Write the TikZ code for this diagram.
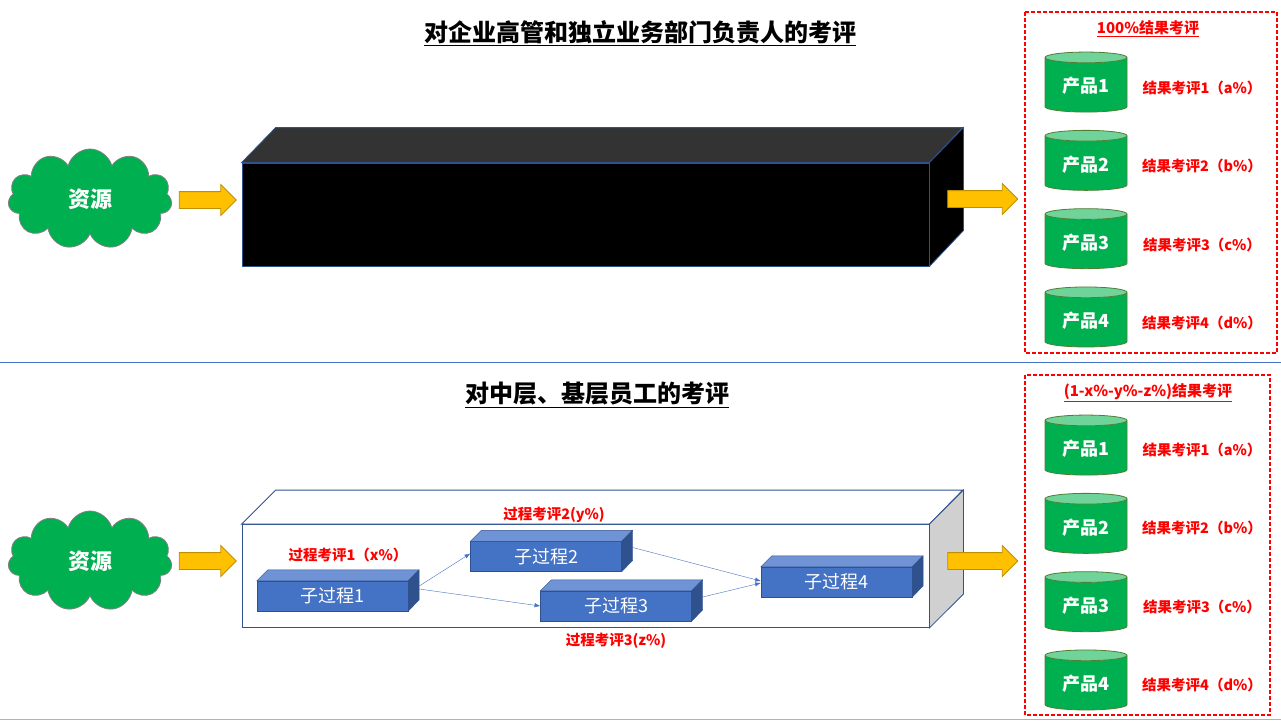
\documentclass[tikz,border=0pt]{standalone}
\usepackage{fontspec}
\setmainfont{Noto Sans CJK SC}
\usetikzlibrary{shapes.geometric,shapes.symbols,shapes.arrows,arrows.meta,positioning}
\definecolor{resgreen}{HTML}{00B050}
\definecolor{cyltop}{HTML}{6FD39A}
\definecolor{cyledge}{HTML}{507E32}
\definecolor{boxblue}{HTML}{4472C4}
\definecolor{boxtop}{HTML}{6F93D5}
\definecolor{boxedge}{HTML}{2F528F}
\definecolor{flowyellow}{HTML}{FFC000}
\definecolor{flowedge}{HTML}{BF9000}
\definecolor{sidegray}{HTML}{D0D0D0}

\begin{document}
\begin{tikzpicture}[x=1pt,y=-1pt,
    title/.style={font=\fontsize{24}{28}\selectfont\bfseries},
    res/.style={cloud,cloud puffs=11,aspect=1.7,minimum width=164pt,minimum height=100pt,
      fill=resgreen,draw=gray,thick,text=white,font=\fontsize{22}{26}\selectfont\bfseries},
    flow/.style={single arrow,single arrow head extend=7pt,inner sep=8pt,
      fill=flowyellow,draw=flowedge,thick},
    bigbox/.style={rectangle,draw=boxedge,thick,minimum width=687pt,minimum height=103pt},
    subbox/.style={rectangle,fill=boxblue,draw=boxedge,minimum width=151pt,minimum height=30pt,
      text=white,font=\fontsize{18}{20}\selectfont},
    product/.style={cylinder,shape border rotate=90,aspect=0.2,minimum width=82pt,minimum height=60pt,
      cylinder uses custom fill,cylinder body fill=resgreen,cylinder end fill=cyltop,
      draw=cyledge,thick,text=white,font=\fontsize{18}{20}\selectfont\bfseries},
    score/.style={text=red,font=\fontsize{14.5}{17}\selectfont\bfseries},
    outbox/.style={draw=red,line width=1.5pt,dash pattern=on 4pt off 2pt},
    link/.style={-{Latex[length=2mm]},boxblue}
    ]
    \useasboundingbox (0,0) rectangle (1281,720);

    % separators
    \draw[boxblue] (0,362) -- (1281,362);
    \draw[gray!60] (0,719) -- (1281,719);

    % ---------- upper part ----------
    \node[title] (title1) at (640,33) {\underline{对企业高管和独立业务部门负责人的考评}};
    \node[res] (res1) at (90,199) {资源};
    \node[flow,minimum height=57pt] (in1) at (203.5,200) {};
    \node[bigbox,fill=black] (blackbox) at (585.5,214.5) {};
    \filldraw[fill=black!80,draw=boxedge,thick] (blackbox.north west) -- ++(34,-35) -- ++(687,0)
      -- (blackbox.north east) -- cycle;
    \filldraw[fill=black,draw=boxedge,thick] (blackbox.north east) -- ++(34,-35) -- ++(0,103)
      -- (blackbox.south east) -- cycle;
    \node[flow,minimum height=70pt] (out1) at (978.5,199) {};

    \draw[outbox] (1025,12) rectangle (1277,353);
    \node[score,font=\fontsize{15}{17}\selectfont\bfseries] (sum1) at (1148,29) {\underline{100\%结果考评}};
    \foreach \i/\s in {1/a,2/b,3/c,4/d}{
      \node[product] (upper\i) at (1086,{86+78.3*(\i-1)}) {产品\i};
      \node[score] (uscore\i) at (1202,{88+78.3*(\i-1)}) {结果考评\i（\s\%）};
    }

    % ---------- lower part ----------
    \node[title] (title2) at (597,395) {\underline{对中层、基层员工的考评}};
    \node[res] (res2) at (90,561) {资源};
    \node[flow,minimum height=57pt] (in2) at (203.5,561) {};
    \node[bigbox,fill=white] (whitebox) at (585.5,576) {};
    \filldraw[fill=white,draw=boxedge,thick] (whitebox.north west) -- ++(34,-34) -- ++(687,0)
      -- (whitebox.north east) -- cycle;
    \filldraw[fill=sidegray,draw=boxedge,thick] (whitebox.north east) -- ++(34,-34) -- ++(0,104)
      -- (whitebox.south east) -- cycle;
    \node[flow,minimum height=70pt] (out2) at (978.5,561) {};

    \node[subbox] (sub1) at (332.5,596) {子过程1};
    \node[subbox] (sub2) at (546,556.5) {子过程2};
    \node[subbox] (sub3) at (616,606) {子过程3};
    \node[subbox] (sub4) at (836.5,582) {子过程4};
    \foreach \n in {sub1,sub2,sub3,sub4}{
      \filldraw[fill=boxtop,draw=boxedge] (\n.north west) -- ++(11,-11) -- ++(151,0)
        -- (\n.north east) -- cycle;
      \filldraw[fill=boxedge,draw=boxedge] (\n.north east) -- ++(11,-11) -- ++(0,30)
        -- (\n.south east) -- cycle;
    }
    \draw[link] ([xshift=11pt,yshift=10pt]sub1.east) -- ([yshift=3pt]sub2.west);
    \draw[link] ([xshift=11pt,yshift=7pt]sub1.east) -- (sub3.west);
    \draw[link] ([xshift=11pt,yshift=9pt]sub2.east) -- ([yshift=1pt]sub4.west);
    \draw[link] ([xshift=11pt,yshift=9pt]sub3.east) -- ([yshift=-1pt]sub4.west);
    \node[score] (proc1) at (348,555) {过程考评1（x\%）};
    \node[score] (proc2) at (554,515) {过程考评2(y\%)};
    \node[score] (proc3) at (616,641) {过程考评3(z\%)};

    \draw[outbox] (1025,375) rectangle (1270,715);
    \node[score,font=\fontsize{15}{17}\selectfont\bfseries] (sum2) at (1148,393) {\underline{(1-x\%-y\%-z\%)结果考评}};
    \foreach \i/\s in {1/a,2/b,3/c,4/d}{
      \node[product] (lower\i) at (1086,{449+78.3*(\i-1)}) {产品\i};
      \node[score] (lscore\i) at (1202,{450+78.3*(\i-1)}) {结果考评\i（\s\%）};
    }
\end{tikzpicture}
\end{document}
